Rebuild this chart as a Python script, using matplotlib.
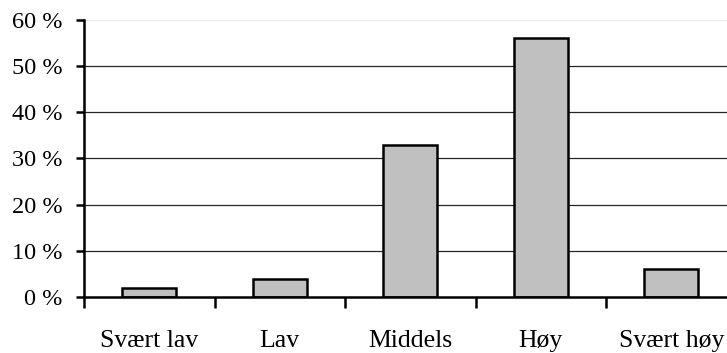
import numpy as np
import matplotlib.pyplot as plt
from matplotlib.ticker import FixedLocator, NullFormatter

plt.rcParams["font.family"] = ["Liberation Serif", "DejaVu Serif"]

categories = ["Svært lav", "Lav", "Middels", "Høy", "Svært høy"]
shares = [2, 4, 33, 56, 6]          # percent
y_ticks = [0, 10, 20, 30, 40, 50, 60]

fig = plt.figure(figsize=(7.27, 3.53), dpi=100)
# plot area runs a little past the right edge of the canvas
ax = fig.add_axes([84 / 727, 1 - 297 / 353, 652.5 / 727, (297 - 19.8) / 353])

x = np.arange(len(categories))
ax.bar(x, shares, width=0.41, color="#c0c0c0", edgecolor="black", linewidth=1.8, zorder=3)

ax.set_xlim(-0.5, len(categories) - 0.5)
ax.set_ylim(0, 60)

for v in y_ticks[1:]:
    ax.axhline(v, color="black", lw=0.9, zorder=1, alpha=0.85 if v < 60 else 0.08)

ax.set_yticks(y_ticks)
ax.set_yticklabels([f"{v} %" for v in y_ticks], fontsize=17.5)
ax.tick_params(axis="y", direction="out", length=6, width=1.8, pad=9.5)

# category boundaries carry the tick marks, labels sit in between
ax.xaxis.set_major_locator(FixedLocator(np.arange(-0.5, len(categories) + 0.5, 1)))
ax.xaxis.set_major_formatter(NullFormatter())
ax.xaxis.set_minor_locator(FixedLocator(x))
ax.set_xticklabels(categories, minor=True, fontsize=18.5)
ax.tick_params(axis="x", which="major", direction="out", length=8, width=1.8)
ax.tick_params(axis="x", which="minor", length=0, pad=24)

for side in ("top", "right"):
    ax.spines[side].set_visible(False)
for side in ("left", "bottom"):
    ax.spines[side].set_linewidth(1.8)
    ax.spines[side].set_zorder(4)

fig.savefig("out.png", dpi=100)
